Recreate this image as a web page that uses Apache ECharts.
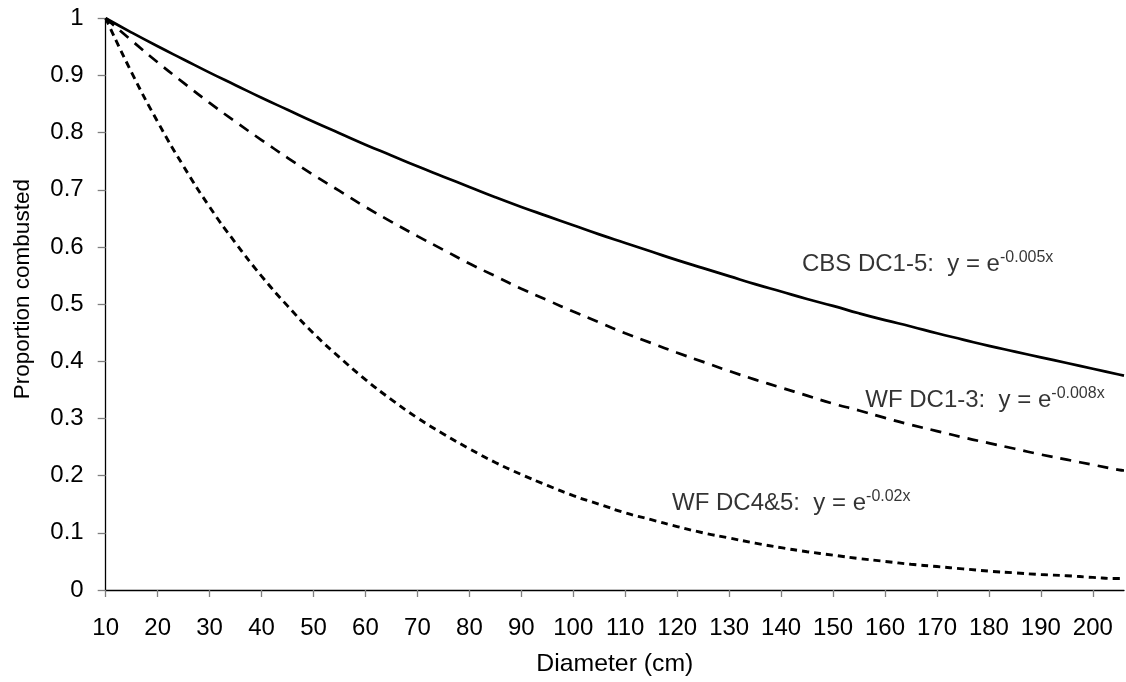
<!DOCTYPE html>
<html>
<head>
<meta charset="utf-8">
<script src="https://cdn.jsdelivr.net/npm/echarts@6/dist/echarts.min.js"></script>
<style>
html,body{margin:0;padding:0;background:#fff;}
#c{width:1126px;height:682px;}
</style>
</head>
<body>
<div id="c"></div>
<script>
// Diameter (cm)
const diameters = [10,15,20,25,30,35,40,45,50,55,60,65,70,75,80,85,90,95,100,105,110,115,120,125,130,135,140,145,150,155,160,165,170,175,180,185,190,195,200,205,206];
// CBS DC1-5
const cbs = [1.000,0.975,0.951,0.928,0.905,0.883,0.861,0.840,0.819,0.799,0.779,0.760,0.741,0.723,0.705,0.687,0.670,0.654,0.638,0.622,0.607,0.592,0.577,0.563,0.549,0.535,0.522,0.509,0.497,0.484,0.472,0.461,0.449,0.438,0.427,0.417,0.407,0.397,0.387,0.377,0.375];
// WF DC1-3
const wf13 = [1.000,0.961,0.923,0.887,0.852,0.819,0.787,0.756,0.726,0.698,0.670,0.644,0.619,0.595,0.571,0.549,0.527,0.507,0.487,0.468,0.449,0.432,0.415,0.399,0.383,0.368,0.354,0.340,0.326,0.314,0.301,0.289,0.278,0.267,0.257,0.247,0.237,0.228,0.219,0.210,0.209];
// WF DC4&5
const wf45 = [1.000,0.905,0.819,0.741,0.670,0.607,0.549,0.497,0.449,0.407,0.368,0.333,0.301,0.273,0.247,0.223,0.202,0.183,0.165,0.150,0.135,0.123,0.111,0.100,0.091,0.082,0.074,0.067,0.061,0.055,0.050,0.045,0.041,0.037,0.033,0.030,0.027,0.025,0.022,0.020,0.020];
const xTickLabels = [10,20,30,40,50,60,70,80,90,100,110,120,130,140,150,160,170,180,190,200];
const yTickLabels = ['0','0.1','0.2','0.3','0.4','0.5','0.6','0.7','0.8','0.9','1'];
const annotations = [
  {name:'CBS DC1-5:  y = e', sup:'-0.005x'},
  {name:'WF DC1-3:  y = e', sup:'-0.008x'},
  {name:'WF DC4&5:  y = e', sup:'-0.02x'}
];
const annotationAt = [[144.0,0.569],[156.2,0.331],[119.0,0.152]];

const FONT = '"Liberation Sans", Arial, sans-serif';
const pairs = arr => diameters.map((d,i)=>[d,arr[i]]);

const chart = echarts.init(document.getElementById('c'), null, {renderer:'canvas'});
chart.setOption({
  animation:false,
  backgroundColor:'#ffffff',
  grid:{left:105.7, right:2, top:18.3, bottom:90.7, containLabel:false},
  xAxis:{
    type:'value', min:10, max:206, interval:10,
    name:'Diameter (cm)', nameLocation:'middle', nameGap:62,
    nameTextStyle:{fontFamily:FONT, fontSize:24.8, color:'#000'},
    axisLine:{lineStyle:{color:'#000', width:1.3}},
    axisTick:{show:true, length:7, lineStyle:{color:'#7f7f7f', width:1.3}, customValues:xTickLabels},
    axisLabel:{fontFamily:FONT, fontSize:24, color:'#000', margin:26, customValues:xTickLabels},
    splitLine:{show:false}
  },
  yAxis:{
    type:'value', min:0, max:1, interval:0.1,
    name:'Proportion combusted', nameLocation:'middle', nameGap:71, nameRotate:90,
    nameTextStyle:{fontFamily:FONT, fontSize:22.5, color:'#000', padding:[0,0,0,30]},
    axisLine:{show:true, lineStyle:{color:'#000', width:1.3}},
    axisTick:{show:true, length:8, lineStyle:{color:'#7f7f7f', width:1.3}},
    axisLabel:{fontFamily:FONT, fontSize:24, color:'#000', margin:22,
      formatter:(v)=>yTickLabels[Math.round(v*10)]},
    splitLine:{show:false}
  },
  series:[
    {type:'line', name:'CBS DC1-5', data:pairs(cbs), smooth:true, showSymbol:false,
     lineStyle:{color:'#000', width:2.7, type:'solid'}},
    {type:'line', name:'WF DC1-3', data:pairs(wf13), smooth:true, showSymbol:false,
     lineStyle:{color:'#000', width:2.7, type:[11,8]}},
    {type:'line', name:'WF DC4&5', data:pairs(wf45), smooth:true, showSymbol:false,
     lineStyle:{color:'#000', width:2.9, type:[7,5]}},
    {type:'scatter', symbolSize:0, silent:true,
     data:annotations.map((a,i)=>({value:annotationAt[i], a:a})),
     label:{show:true, position:'right', distance:0,
       formatter:(p)=>'{m|'+p.data.a.name+'}{s|'+p.data.a.sup+'}',
       rich:{
         m:{fontFamily:FONT, fontSize:24, color:'#000', lineHeight:30},
         s:{fontFamily:FONT, fontSize:16, color:'#000', padding:[0,0,14,0]}
       }}
    }
  ]
});
</script>
</body>
</html>
